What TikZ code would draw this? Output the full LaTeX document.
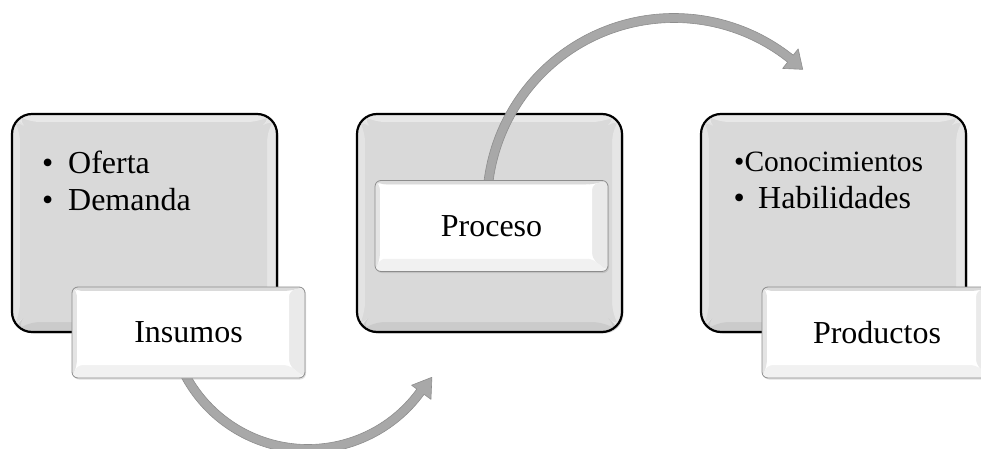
\documentclass[tikz,border=0pt]{standalone}
\usepackage{fontspec}
\setmainfont{Liberation Serif}
\usetikzlibrary{shadows}

\definecolor{panel}{HTML}{D9D9D9}
\definecolor{bigtop}{HTML}{E8E8E8}
\definecolor{bigleft}{HTML}{E3E3E3}
\definecolor{bigright}{HTML}{E6E6E6}
\definecolor{bigbot}{HTML}{CBCBCB}
\definecolor{smtop}{HTML}{DADADA}
\definecolor{smleft}{HTML}{E4E4E4}
\definecolor{smright}{HTML}{EAEAEA}
\definecolor{smbot}{HTML}{F1F1F1}
\definecolor{arrowfill}{HTML}{A8A8A8}
\definecolor{arrowedge}{HTML}{8E8E8E}

% Bevel bands inside a node: widths left, top, right, bottom;
% colours top, left, right, bottom; style of the flat inner face.
\newcommand\bevelsides[9]{%
  \coordinate (bsw) at (path picture bounding box.south west);
  \coordinate (bne) at (path picture bounding box.north east);
  \coordinate (bnw) at (bsw |- bne);
  \coordinate (bse) at (bne |- bsw);
  \coordinate (inw) at ([shift={(#1,-#2)}]bnw);
  \coordinate (ine) at ([shift={(-#3,-#2)}]bne);
  \coordinate (ise) at ([shift={(-#3,#4)}]bse);
  \coordinate (isw) at ([shift={(#1,#4)}]bsw);
  \fill[#5] (bnw) -- (bne) -- (ine) -- (inw) -- cycle;
  \fill[#6] (bnw) -- (inw) -- (isw) -- (bsw) -- cycle;
  \fill[#7] (bne) -- (bse) -- (ise) -- (ine) -- cycle;
  \fill[#8] (bsw) -- (isw) -- (ise) -- (bse) -- cycle;
  \fill[#9] (isw) rectangle (ine);
}

\tikzset{
  bigbox/.style={rectangle, rounded corners=20pt, inner sep=0pt,
    minimum width=265pt, minimum height=218pt,
    fill=panel, draw=black, line width=2.2pt,
    drop shadow={shadow xshift=1.5pt, shadow yshift=-1.5pt, opacity=0.35},
    path picture={\bevelsides{8pt}{8pt}{10pt}{10pt}{bigtop}{bigleft}{bigright}{bigbot}{panel, rounded corners=12pt}}},
  tagbox/.style={rectangle, rounded corners=6pt, inner sep=0pt,
    minimum width=233pt, minimum height=91pt,
    fill=white, draw=black!45, line width=0.8pt,
    drop shadow={shadow xshift=1pt, shadow yshift=-1.5pt, opacity=0.25},
    font=\fontsize{32}{37}\selectfont, text depth=0pt,
    path picture={\bevelsides{5pt}{4pt}{16pt}{13pt}{smtop}{smleft}{smright}{smbot}{white, rounded corners=4pt}}},
  item/.style={anchor=base west, inner sep=0pt, font=\fontsize{32}{37}\selectfont},
  bentarrow/.style={fill=arrowfill, draw=arrowedge, line width=0.6pt, line join=round},
}

\begin{document}
\begin{tikzpicture}[x=1pt, y=1pt]
  \useasboundingbox (0,0) rectangle (981,448);
  \clip (0,0) rectangle (981,448);

  % three stage panels
  \node[bigbox] (insumosPanel)   at (144.5,225) {};
  \node[bigbox] (procesoPanel)   at (489.5,225) {};
  \node[bigbox] (productosPanel) at (833.5,225) {};

  % curved connectors, drawn as filled bent arrows around their arc centres
  \coordinate (lowArc) at (308,138);
  \coordinate (highArc) at (674,243);
  \filldraw[bentarrow]
    ([shift={(205:143.5pt)}]lowArc) arc[start angle=205, end angle=324, radius=143.5pt]
    -- ([shift={(324:152pt)}]lowArc) -- ([shift={(331.5:141pt)}]lowArc)
    -- ([shift={(324:128pt)}]lowArc) -- ([shift={(324:134.5pt)}]lowArc)
    arc[start angle=324, end angle=205, radius=134.5pt] -- cycle;
  \filldraw[bentarrow]
    ([shift={(174:191.5pt)}]highArc) arc[start angle=174, end angle=51.5, radius=191.5pt]
    -- ([shift={(51.5:199.5pt)}]highArc) -- ([shift={(46.5:187pt)}]highArc)
    -- ([shift={(51.5:174.5pt)}]highArc) -- ([shift={(51.5:182.5pt)}]highArc)
    arc[start angle=51.5, end angle=174, radius=182.5pt] -- cycle;

  % stage labels
  \node[tagbox] (insumos)   at (188.5,115.5) {Insumos};
  \node[tagbox] (proceso)   at (491.5,222)   {Proceso};
  \node[tagbox, minimum width=230pt] (productos) at (877,115.5) {Productos};

  % panel contents
  \node[item] (oferta)  at (42,275) {•\hspace{14.8pt}Oferta};
  \node[item] (demanda) at (42,238) {•\hspace{14.8pt}Demanda};
  \node[item, font=\fontsize{29.5}{35}\selectfont] (conoc) at (734,277) {•Conocimientos};
  \node[item] (habil) at (733.4,240) {•\hspace{13.4pt}Habilidades};
\end{tikzpicture}
\end{document}
